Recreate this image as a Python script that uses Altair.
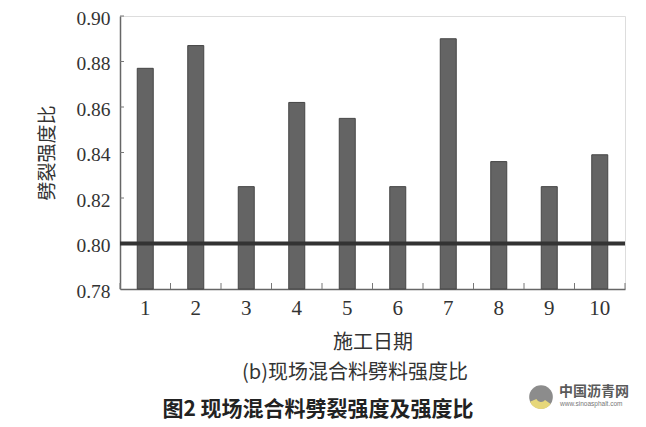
import altair as alt
import pandas as pd

# ---- data ----
days = [1, 2, 3, 4, 5, 6, 7, 8, 9, 10]
ratios = [0.877, 0.887, 0.825, 0.862, 0.855, 0.825, 0.890, 0.836, 0.825, 0.839]
threshold = 0.80
y_min, y_max = 0.78, 0.90
y_tick_values = [0.78, 0.80, 0.82, 0.84, 0.86, 0.88, 0.90]
inner_ticks = [0.80, 0.82, 0.84, 0.86, 0.88, 0.90]

x_title = "施工日期"
y_title = "劈裂强度比"
sub_caption = "(b)现场混合料劈料强度比"
fig_caption = "图2  现场混合料劈裂强度及强度比"
wm_name = "中国沥青网"
wm_url = "www.sinoasphalt.com"

W, H = 505, 273

df = pd.DataFrame({"day": [str(d) for d in days], "ratio": ratios, "base": [y_min] * len(days)})
order = [str(d) for d in days]

xscale = alt.Scale(domain=order, paddingInner=0, paddingOuter=0)
yscale = alt.Scale(domain=[y_min, y_max], nice=False, zero=False)

bars = alt.Chart(df).mark_bar(size=16, color="#646464", stroke="#454545", strokeWidth=1).encode(
    x=alt.X("day:N", sort=order, scale=xscale,
            axis=alt.Axis(title=x_title, labelAngle=0, ticks=False,
                          labelPadding=8, labelFont="Liberation Serif", labelFontSize=21,
                          labelColor="#333333", titleFont="Noto Sans CJK SC",
                          titleFontSize=20, titleFontWeight="normal", titleColor="#333333",
                          titlePadding=14,
                          domainColor="#666666", domainWidth=1.5)),
    y=alt.Y("ratio:Q", scale=yscale,
            axis=alt.Axis(title=y_title, values=y_tick_values, format=".2f", ticks=False,
                          grid=False, labelPadding=10, labelOffset=2,
                          labelFont="Liberation Serif", labelFontSize=19.5, labelColor="#333333",
                          titleFont="Noto Sans CJK SC", titleFontSize=19,
                          titleFontWeight="normal", titleColor="#333333",
                          titlePadding=18,
                          domainColor="#666666", domainWidth=1.5)),
    y2="base:Q",
)

xticks = alt.Chart(df).mark_rule(color="#777777", strokeWidth=1).encode(
    x=alt.X("day:N", sort=order, bandPosition=0),
    y=alt.value(H - 6), y2=alt.value(H),
)
xtick_end = alt.Chart(df).transform_filter(alt.datum.day == "10").mark_rule(
    color="#777777", strokeWidth=1).encode(
    x=alt.X("day:N", sort=order, bandPosition=1),
    y=alt.value(H - 6), y2=alt.value(H),
)

yticks = alt.Chart(pd.DataFrame({"ratio": inner_ticks})).mark_rule(color="#777777", strokeWidth=1).encode(
    y=alt.Y("ratio:Q"),
    x=alt.value(0), x2=alt.value(4),
)

thr = alt.Chart(pd.DataFrame({"ratio": [threshold]})).mark_rule(color="#333333", strokeWidth=4).encode(
    y=alt.Y("ratio:Q"),
)

one = alt.Data(values=[{"a": 1}])

sub = alt.Chart(one).mark_text(text=sub_caption, font="Noto Sans CJK SC", fontSize=20,
                               color="#333333", align="center", baseline="middle").encode(
    x=alt.value(235), y=alt.value(357))
cap = alt.Chart(one).mark_text(text=fig_caption, font="Noto Sans CJK SC", fontSize=21,
                               fontWeight="bold", color="#222222", align="center",
                               baseline="middle").encode(
    x=alt.value(198), y=alt.value(394))

logo = alt.Chart(one).mark_point(filled=True, size=560, color="#8c8c8c", opacity=1).encode(
    x=alt.value(421), y=alt.value(381))
logo2 = alt.Chart(one).mark_arc(radius=12, radius2=5, theta=2.2, theta2=4.3, color="#e6d77a").encode(
    x=alt.value(421), y=alt.value(381))
wm1 = alt.Chart(one).mark_text(text=wm_name, font="Noto Sans CJK SC", fontSize=14,
                               fontWeight="bold", color="#5a5a5a", align="left",
                               baseline="middle").encode(
    x=alt.value(439), y=alt.value(376))
wm2 = alt.Chart(one).mark_text(text=wm_url, font="Liberation Sans", fontSize=6.5,
                               color="#777777", align="left", baseline="middle").encode(
    x=alt.value(440), y=alt.value(388))

chart = alt.layer(bars, xticks, xtick_end, yticks, thr, sub, cap, logo, logo2, wm1, wm2).properties(
    width=W, height=H,
    autosize=alt.AutoSizeParams(type="none"),
    padding={"left": 112, "top": 8, "right": 13, "bottom": 132},
).configure_view(stroke=None).configure(background="white")

chart.save("out.html", embed_options={"renderer": "svg", "actions": False})
